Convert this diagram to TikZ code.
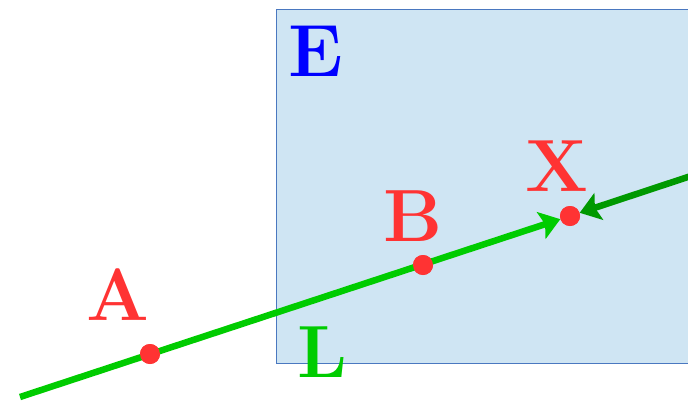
\documentclass[tikz,border=0pt]{standalone}
\usepackage{fontspec}
\usetikzlibrary{arrows.meta}
\definecolor{lgreen}{HTML}{00CC00}
\definecolor{dgreen}{HTML}{009900}
\definecolor{dotred}{HTML}{FF3333}
\definecolor{boxfill}{HTML}{CFE5F3}
\definecolor{boxline}{HTML}{4A78C0}
\begin{document}
\begin{tikzpicture}[x=1pt,y=1pt,
  lbl/.style={font=\fontsize{74}{74}\selectfont\bfseries, inner sep=0pt},
  ptdot/.style={circle, fill=dotred, minimum size=20pt, inner sep=0pt},
  ray/.style={line width=6.5pt, arrows={-Stealth[length=20pt,width=28pt,inset=4pt]}}]
\clip (0,0) rectangle (688,400);
\useasboundingbox (0,0) rectangle (688,400);
\node[draw=boxline, fill=boxfill, line width=0.8pt, minimum width=430pt, minimum height=354pt, anchor=south west, inner sep=0pt] (E) at (276,36) {};
\coordinate (S) at (20,3);
\coordinate (T) at (700,227);
\path (150,46) node[ptdot] (A) {};
\path (423,135) node[ptdot] (B) {};
\path (570,184) node[ptdot] (X) {};
\draw[ray, lgreen] (S) -- (X);
\draw[ray, dgreen] (T) -- (X);
\node[ptdot] at (A) {};
\node[ptdot] at (B) {};
\node[ptdot] at (X) {};
\node[lbl, text=dotred] (lA) at (118,105) {A};
\node[lbl, text=dotred] (lB) at (413,184) {B};
\node[lbl, text=dotred] (lX) at (557,234) {X};
\node[lbl, text=blue] (lE) at (316,349) {E};
\node[lbl, text=lgreen] (lL) at (323,48) {L};
\end{tikzpicture}
\end{document}
